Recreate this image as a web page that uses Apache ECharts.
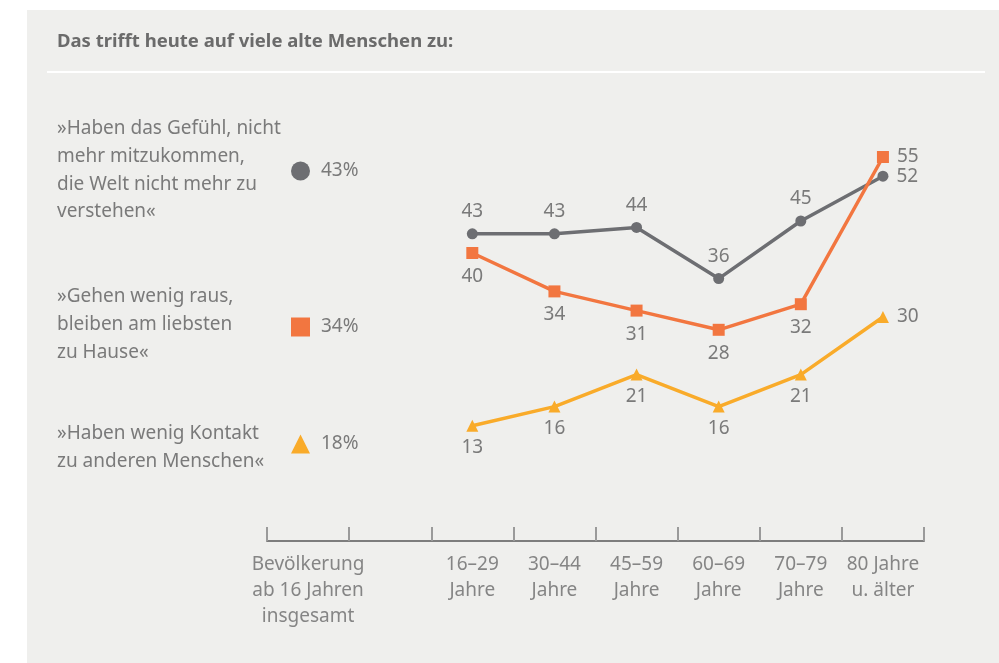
<!DOCTYPE html>
<html>
<head>
<meta charset="utf-8">
<script src="https://cdn.jsdelivr.net/npm/echarts@6/dist/echarts.min.js"></script>
<style>
html,body{margin:0;padding:0;background:#fff;}
#chart{width:999px;height:663px;}
</style>
</head>
<body>
<div id="chart"></div>
<script>
// Kategorien (zweite Spalte bleibt leer)
var categories = ['Bevölkerung\nab 16 Jahren\ninsgesamt', '', '16–29\nJahre', '30–44\nJahre', '45–59\nJahre', '60–69\nJahre', '70–79\nJahre', '80 Jahre\nu. älter'];
var seriesNames = ['»Haben das Gefühl, nicht\nmehr mitzukommen,\ndie Welt nicht mehr zu\nverstehen«', '»Gehen wenig raus,\nbleiben am liebsten\nzu Hause«', '»Haben wenig Kontakt\nzu anderen Menschen«'];
// Werte insgesamt
var totals = [43, 34, 18];
// Werte nach Altersgruppen
var gefuehl = [null, null, 43, 43, 44, 36, 45, 52];
var zuhause = [null, null, 40, 34, 31, 28, 32, 55];
var kontakt = [null, null, 13, 16, 21, 16, 21, 30];

var colors = ['#6d6e72', '#f27640', '#f9ab2a'];
var font = 'Noto Sans';
var textGrey = '#7a7a7a';
var fs = 19;

function lastRight(arr){
	// letzter Wert rechts neben dem Punkt
	var out = [];
	for(var i=0;i<arr.length;i++){
		if(i == arr.length-1){
			out.push({value:arr[i], label:{position:'right', distance:8}});
		}else{
			out.push(arr[i]);
		}
	}
	return out;
}

function makeSeries(idx, data, symbol, size, pos, dist){
	return {
		name: seriesNames[idx],
		type: 'line',
		data: lastRight(data),
		symbol: symbol,
		symbolSize: size,
		showSymbol: true,
		connectNulls: false,
		lineStyle: {color: colors[idx], width: 3.5},
		itemStyle: {color: colors[idx]},
		label: {
			show: true,
			position: pos,
			distance: dist,
			color: textGrey,
			fontSize: fs,
			fontFamily: font
		},
		z: 3 + idx
	};
}

function makeLegend(idx, icon, top){
	return {
		data: [seriesNames[idx]],
		left: 291,
		top: top,
		padding: 0,
		icon: icon,
		itemWidth: 19,
		itemHeight: 19,
		selectedMode: false,
		formatter: function(){ return totals[idx] + '%'; },
		textStyle: {color: textGrey, fontSize: fs, fontFamily: font, padding: [0,0,0,6]}
	};
}

var myChart = echarts.init(document.getElementById('chart'));
var option = {
	backgroundColor: '#ffffff',
	animation: false,
	title: {
		text: 'Das trifft heute auf viele alte Menschen zu:',
		left: 57,
		top: 32,
		padding: 0,
		textStyle: {color: '#6b6b6b', fontSize: 18.5, fontWeight: 'bold', fontFamily: font}
	},
	graphic: [
		{type:'rect', shape:{x:27, y:10, width:972, height:653}, style:{fill:'#efefed'}, z:-100, silent:true},
		{type:'line', shape:{x1:47, y1:72, x2:985, y2:72}, style:{stroke:'#ffffff', lineWidth:2}, z:-90, silent:true},
		{type:'text', x:57, y:115, style:{text:seriesNames[0], fill:textGrey, font:fs + 'px "Noto Sans"', lineHeight:27.7, verticalAlign:'top'}},
		{type:'text', x:57, y:283, style:{text:seriesNames[1], fill:textGrey, font:fs + 'px "Noto Sans"', lineHeight:27.7, verticalAlign:'top'}},
		{type:'text', x:57, y:420, style:{text:seriesNames[2], fill:textGrey, font:fs + 'px "Noto Sans"', lineHeight:27.7, verticalAlign:'top'}}
	],
	legend: [
		makeLegend(0, 'circle', 161.5),
		makeLegend(1, 'rect', 317.5),
		makeLegend(2, 'triangle', 434.5)
	],
	grid: {left: 267, right: 75, top: 125, bottom: 122},
	xAxis: {
		type: 'category',
		data: categories,
		boundaryGap: true,
		axisLine: {show: true, onZero: false, lineStyle: {color: '#7d7d7d', width: 2}},
		axisTick: {show: true, inside: true, length: 14, lineStyle: {color: '#9a9a9a', width: 2}},
		axisLabel: {
			interval: 0,
			margin: 11,
			color: '#858585',
			fontSize: fs,
			fontFamily: font,
			lineHeight: 26
		},
		splitLine: {show: false}
	},
	yAxis: {
		type: 'value',
		min: -5,
		max: 60,
		interval: 5,
		show: false,
		splitLine: {show: false}
	},
	series: [
		makeSeries(0, gefuehl, 'circle', 11, 'top', 7),
		makeSeries(1, zuhause, 'rect', 12, 'bottom', 8),
		makeSeries(2, kontakt, 'triangle', 12, 'bottom', 6)
	]
};
myChart.setOption(option);
</script>
</body>
</html>
